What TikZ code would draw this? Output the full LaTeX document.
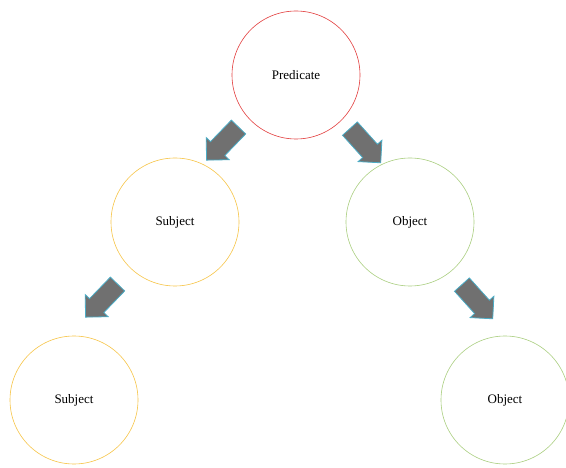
\documentclass[tikz,border=0pt]{standalone}
\usepackage{fontspec}
\setmainfont{Liberation Serif}
\usetikzlibrary{shapes.arrows}
\definecolor{predred}{RGB}{226,62,62}
\definecolor{subjyellow}{RGB}{246,196,72}
\definecolor{objgreen}{RGB}{170,206,128}
\definecolor{arrowgray}{RGB}{112,112,112}
\definecolor{arrowblue}{RGB}{75,172,198}

\begin{document}
\begin{tikzpicture}[x=1pt, y=-1pt,
  bubble/.style={circle, draw, line width=0.6pt, minimum size=128pt,
    inner sep=0pt, font=\fontsize{13}{15}\selectfont},
  blockarrow/.style={single arrow, draw=arrowblue, fill=arrowgray,
    line width=0.8pt, minimum height=46pt, minimum width=32pt,
    inner xsep=0pt, inner ysep=9.5pt, single arrow head extend=6pt}]
\useasboundingbox (0,0) rectangle (566,468);

\node[bubble, predred] (pred) at (296,75) {\color{black}Predicate};
\node[bubble, subjyellow] (subj) at (175,222) {\color{black}Subject};
\node[bubble, objgreen] (obj) at (410,222) {\color{black}Object};
\node[bubble, subjyellow] (subjb) at (74,400) {\color{black}Subject};
\node[bubble, objgreen] (objb) at (505,400) {\color{black}Object};

% block arrows between the levels
\node[blockarrow, rotate=-134] (ps) at (226,140) {};
\node[blockarrow, rotate=-48] (po) at (362,142) {};
\node[blockarrow, rotate=-134] (ss) at (105,297) {};
\node[blockarrow, rotate=-48] (oo) at (474,298) {};
\end{tikzpicture}
\end{document}
